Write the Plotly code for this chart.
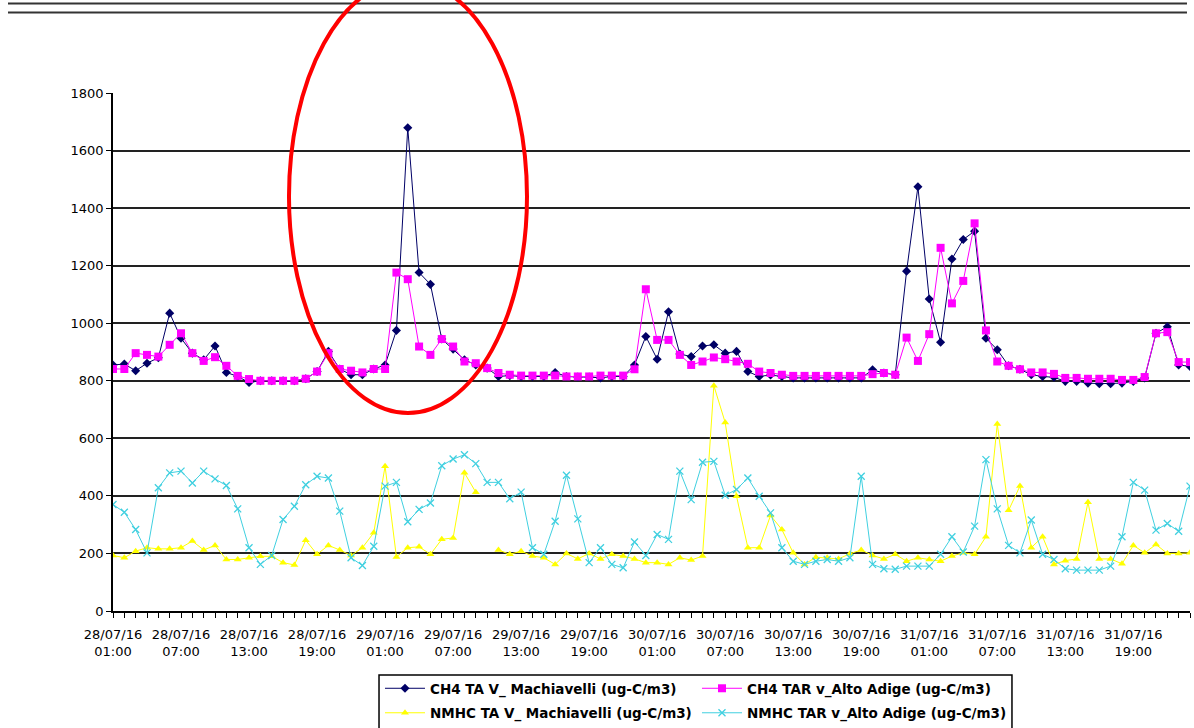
import plotly.graph_objects as go
import pandas as pd

# hourly timestamps, 28/07/16 01:00 onwards
times = pd.date_range("2016-07-28 01:00", periods=96, freq="h")

series_names = [
    "CH4 TA V_ Machiavelli (ug-C/m3)",
    "CH4 TAR v_Alto Adige (ug-C/m3)",
    "NMHC TA V_ Machiavelli (ug-C/m3)",
    "NMHC TAR v_Alto Adige (ug-C/m3)",
]

ch4_machiavelli = [
    855, 858, 835, 861, 880, 1035, 948, 896, 873, 921,
    829, 815, 794, 800, 800, 800, 800, 807, 832, 902,
    841, 821, 821, 841, 855, 975, 1679, 1176, 1135, 945,
    910, 873, 855, 844, 815, 818, 815, 815, 815, 829,
    815, 813, 813, 810, 815, 815, 855, 954, 875, 1040,
    893, 884, 921, 925, 896, 902, 832, 815, 820, 815,
    810, 810, 810, 810, 810, 810, 810, 838, 827, 821,
    1181, 1474, 1084, 934, 1223, 1291, 1320, 948, 908, 852,
    840, 821, 815, 812, 798, 798, 792, 790, 790, 792,
    798, 810, 965, 988, 855, 850,
]

ch4_alto_adige = [
    841, 841, 896, 890, 884, 925, 965, 896, 869, 882,
    852, 817, 806, 800, 800, 800, 800, 807, 832, 896,
    841, 835, 829, 841, 841, 1176, 1153, 919, 890, 945,
    919, 867, 861, 844, 827, 821, 818, 818, 818, 818,
    815, 815, 815, 818, 818, 818, 840, 1118, 942, 942,
    890, 855, 867, 881, 875, 867, 859, 832, 827, 821,
    817, 817, 817, 817, 817, 817, 817, 823, 827, 821,
    950, 869, 962, 1262, 1069, 1147, 1347, 975, 867, 852,
    840, 829, 829, 824, 810, 810, 807, 807, 807, 803,
    803, 813, 965, 969, 865, 865,
]

nmhc_machiavelli = [
    193, 185, 208, 220, 216, 216, 220, 243, 212, 228,
    179, 179, 185, 190, 190, 168, 160, 246, 197, 228,
    212, 193, 220, 272, 503, 188, 220, 223, 197, 249,
    254, 480, 413, None, 212, 197, 208, 191, 185, 162,
    200, 181, 200, 181, 197, 191, 181, 168, 168, 162,
    185, 177, 191, 783, 655, 399, 220, 220, 332, 283,
    202, 162, 187, 185, 181, 199, 212, 193, 181, 197,
    173, 185, 179, 173, 191, 202, 197, 258, 650, 350,
    434, 220, 258, 162, 175, 181, 378, 181, 181, 164,
    228, 202, 231, 200, 200, 202,
]

nmhc_alto_adige = [
    370, 343, 283, 202, 428, 480, 486, 445, 486, 459,
    436, 355, 220, 162, 193, 318, 364, 439, 468, 462,
    347, 185, 158, 225, 434, 447, 310, 353, 375, 505,
    528, 543, 512, 447, 447, 390, 413, 220, 197, 312,
    472, 320, 168, 220, 162, 150, 240, 193, 266, 249,
    486, 387, 517, 520, 402, 422, 462, 399, 341, 220,
    173, 162, 173, 179, 173, 185, 468, 162, 147, 145,
    156, 156, 156, 197, 258, 205, 295, 526, 355, 228,
    202, 316, 197, 179, 147, 142, 142, 142, 156, 258,
    447, 420, 281, 304, 277, 434,
]

NAVY = "#000066"
MAGENTA = "#FF00FF"
YELLOW = "#FFFF00"
CYAN = "#40D0E0"

fig = go.Figure()
fig.add_trace(go.Scatter(
    x=times, y=ch4_machiavelli, name=series_names[0], mode="lines+markers",
    line=dict(color=NAVY, width=1),
    marker=dict(symbol="diamond", size=7, color=NAVY),
    legend="legend"))
fig.add_trace(go.Scatter(
    x=times, y=ch4_alto_adige, name=series_names[1], mode="lines+markers",
    line=dict(color=MAGENTA, width=1),
    marker=dict(symbol="square", size=8, color=MAGENTA),
    legend="legend"))
fig.add_trace(go.Scatter(
    x=times, y=nmhc_machiavelli, name=series_names[2], mode="lines+markers",
    line=dict(color=YELLOW, width=1), connectgaps=False,
    marker=dict(symbol="triangle-up", size=7, color=YELLOW),
    legend="legend2"))
fig.add_trace(go.Scatter(
    x=times, y=nmhc_alto_adige, name=series_names[3], mode="lines+markers",
    line=dict(color=CYAN, width=1),
    marker=dict(symbol="x-thin", size=7, color=CYAN, line=dict(width=1.3, color=CYAN)),
    legend="legend2"))

legend_font = dict(family="DejaVu Sans", size=13.5, color="black", weight="bold")
common_legend = dict(orientation="h", xanchor="left", yanchor="middle",
                     x=0.2479, font=legend_font, entrywidth=262,
                     entrywidthmode="pixels", itemwidth=40,
                     bgcolor="rgba(0,0,0,0)", borderwidth=0)

fig.update_layout(
    width=1194, height=728,
    margin=dict(l=113, r=4, t=93, b=117, autoexpand=False),
    paper_bgcolor="white", plot_bgcolor="white",
    font=dict(family="DejaVu Sans", size=13, color="black"),
    showlegend=True,
    xaxis=dict(
        type="date", range=[times[0], times[-1]],
        tick0=times[0], dtick=6 * 3600 * 1000,
        tickformat="%d/%m/%y<br>%H:%M",
        ticks="outside", ticklen=5, tickcolor="black", tickwidth=1,
        ticklabelstandoff=6,
        showline=True, linecolor="black", linewidth=1.5,
        showgrid=False, zeroline=False,
        minor=dict(dtick=3600 * 1000, ticks="outside", ticklen=5,
                   tickcolor="black", tickwidth=1, showgrid=False),
    ),
    yaxis=dict(
        range=[0, 1800], tick0=0, dtick=200,
        ticks="outside", ticklen=5, tickcolor="black",
        showline=True, linecolor="black", linewidth=1.5,
        showgrid=True, gridcolor="#222222", gridwidth=1.5,
        zeroline=False,
    ),
    legend=dict(common_legend, y=-0.1496),
    legend2=dict(common_legend, y=-0.1969),
    shapes=[
        # double rule at the top of the page
        dict(type="line", xref="paper", yref="paper", x0=-0.0975, x1=0.9972,
             y0=1.1728, y1=1.1728, line=dict(color="#333333", width=2)),
        dict(type="line", xref="paper", yref="paper", x0=-0.0975, x1=0.9972,
             y0=1.1554, y1=1.1554, line=dict(color="#333333", width=2)),
        # legend frame
        dict(type="rect", xref="paper", yref="paper", x0=0.247, x1=0.8347,
             y0=-0.1236, y1=-0.245, line=dict(color="black", width=1.5)),
        # red highlight ellipse
        dict(type="circle", xref="paper", yref="paper", x0=0.1634, x1=0.3844,
             y0=0.3822, y1=1.218, line=dict(color="#FF0000", width=4)),
    ],
)

fig.write_html("out.html")
